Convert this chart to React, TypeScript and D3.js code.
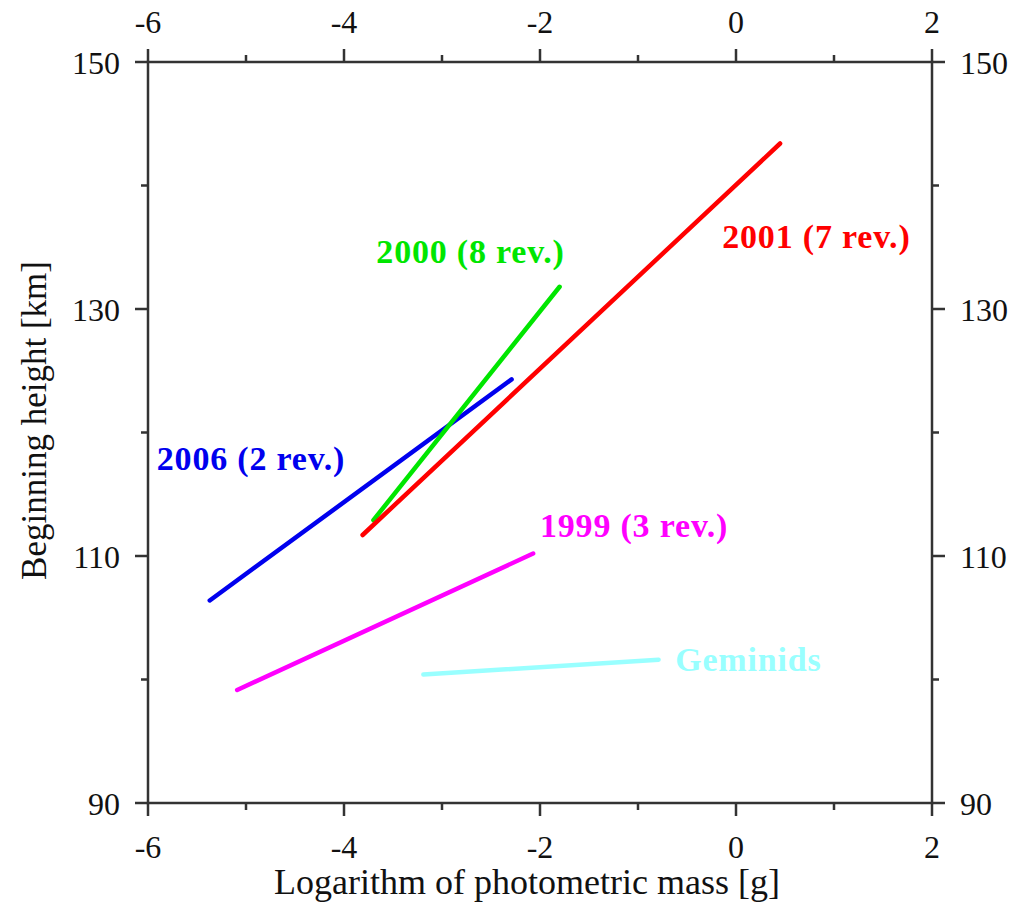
import React from "react";
import * as d3 from "d3";

const xMajor = [-6, -4, -2, 0, 2];
const xMinor = [-5, -3, -1, 1];
const yMajor = [90, 110, 130, 150];
const yMinor = [100, 120, 140];

const seriesNames = ["2006 (2 rev.)", "2000 (8 rev.)", "2001 (7 rev.)", "1999 (3 rev.)", "Geminids"];
const seriesColors = ["#0000ee", "#00e600", "#ff0000", "#ff00ff", "#99ffff"];
const seriesX = [
  [-5.37, -2.29],
  [-3.7, -1.8],
  [-3.81, 0.45],
  [-5.09, -2.07],
  [-3.19, -0.79],
];
const seriesY = [
  [106.4, 124.3],
  [112.9, 131.8],
  [111.7, 143.4],
  [99.15, 110.2],
  [100.4, 101.6],
];
const labelX = [-5.91, -3.67, -0.14, -2.0, -0.62];
const labelY = [117.0, 133.7, 134.9, 111.5, 100.7];

const W = 1025;
const H = 907;
const L = 148, R = 932, T = 62, B = 803;

export default function App() {
  const x = d3.scaleLinear().domain([-6, 2]).range([L, R]);
  const y = d3.scaleLinear().domain([90, 150]).range([B, T]);
  const line = d3.line<[number, number]>().x((d) => x(d[0])).y((d) => y(d[1]));
  const font = "'Liberation Serif', 'Times New Roman', serif";
  const axisColor = "#333";
  const tickW = 2.5;
  const maj = 13, mnr = 7;
  return (
    <svg width={W} height={H} style={{ position: "absolute", left: 0, top: 0, background: "#fff" }} fontFamily={font}>
      <rect x={0} y={0} width={W} height={H} fill="#fff" />
      <rect x={L} y={T} width={R - L} height={B - T} fill="none" stroke={axisColor} strokeWidth={2.5} />
      {xMajor.map((v) => (
        <g key={"xm" + v}>
          <line x1={x(v)} x2={x(v)} y1={B} y2={B + maj} stroke={axisColor} strokeWidth={tickW} />
          <line x1={x(v)} x2={x(v)} y1={T} y2={T - maj} stroke={axisColor} strokeWidth={tickW} />
          <text x={x(v)} y={858} fontSize={32} textAnchor="middle" fill="#111">{String(v)}</text>
          <text x={x(v)} y={33} fontSize={32} textAnchor="middle" fill="#111">{String(v)}</text>
        </g>
      ))}
      {xMinor.map((v) => (
        <g key={"xn" + v}>
          <line x1={x(v)} x2={x(v)} y1={B} y2={B + mnr} stroke={axisColor} strokeWidth={tickW} />
          <line x1={x(v)} x2={x(v)} y1={T} y2={T - mnr} stroke={axisColor} strokeWidth={tickW} />
        </g>
      ))}
      {yMajor.map((v) => (
        <g key={"ym" + v}>
          <line x1={L} x2={L - maj} y1={y(v)} y2={y(v)} stroke={axisColor} strokeWidth={tickW} />
          <line x1={R} x2={R + maj} y1={y(v)} y2={y(v)} stroke={axisColor} strokeWidth={tickW} />
          <text x={120} y={y(v) + 12} fontSize={32} textAnchor="end" fill="#111">{String(v)}</text>
          <text x={960} y={y(v) + 12} fontSize={32} textAnchor="start" fill="#111">{String(v)}</text>
        </g>
      ))}
      {yMinor.map((v) => (
        <g key={"yn" + v}>
          <line x1={L} x2={L - mnr} y1={y(v)} y2={y(v)} stroke={axisColor} strokeWidth={tickW} />
          <line x1={R} x2={R + mnr} y1={y(v)} y2={y(v)} stroke={axisColor} strokeWidth={tickW} />
        </g>
      ))}
      <text x={(L + R) / 2 - 13} y={894} fontSize={36} textAnchor="middle" fill="#111">
        Logarithm of photometric mass [g]
      </text>
      <text transform={`translate(46, ${(T + B) / 2 - 12}) rotate(-90)`} fontSize={35} textAnchor="middle" fill="#111">
        Beginning height [km]
      </text>
      {seriesNames.map((n, i) => (
        <g key={n}>
          <path
            d={line(seriesX[i].map((v, j) => [v, seriesY[i][j]] as [number, number])) || ""}
            stroke={seriesColors[i]}
            strokeWidth={4.5}
            fill="none"
            strokeLinecap="round"
          />
          <text x={x(labelX[i])} y={y(labelY[i])} fontSize={34} fontWeight="bold" letterSpacing={0.8} fill={seriesColors[i]}>
            {n}
          </text>
        </g>
      ))}
    </svg>
  );
}
